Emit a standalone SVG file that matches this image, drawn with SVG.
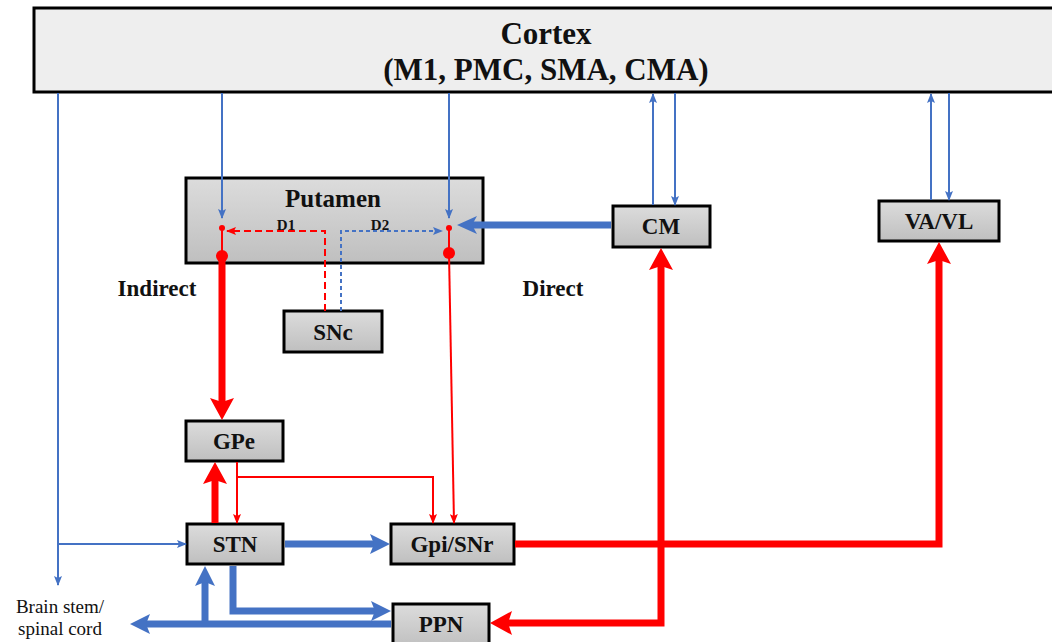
<svg xmlns="http://www.w3.org/2000/svg" width="1052" height="642" viewBox="0 0 1052 642">
<style>
.box{stroke:#000;stroke-width:3;fill:url(#g)}
.lbl{font-family:"Liberation Serif","Times New Roman",serif;font-weight:bold;font-size:23px;text-anchor:middle;fill:#111}
.bt{fill:none;stroke:#4472C4;stroke-width:2}
.bT{fill:none;stroke:#4472C4;stroke-width:7}
.rt{fill:none;stroke:#FF0000;stroke-width:2}
.rT{fill:none;stroke:#FF0000;stroke-width:7}
</style>
<defs>
<linearGradient id="g" x1="0" y1="0" x2="0" y2="1">
<stop offset="0" stop-color="#dcdcdc"/><stop offset="1" stop-color="#bfbfbf"/>
</linearGradient>
<marker id="bs" markerUnits="userSpaceOnUse" markerWidth="10" markerHeight="8" viewBox="0 0 10 8" refX="9" refY="4" orient="auto"><path d="M0,0 L10,4 L0,8 L2,4z" fill="#4472C4"/></marker>
<marker id="rs" markerUnits="userSpaceOnUse" markerWidth="10" markerHeight="8" viewBox="0 0 10 8" refX="9" refY="4" orient="auto"><path d="M0,0 L10,4 L0,8 L2,4z" fill="#FF0000"/></marker>
<marker id="rL" markerUnits="userSpaceOnUse" markerWidth="22" markerHeight="24" viewBox="0 0 22 24" refX="4" refY="12" orient="auto-start-reverse"><path d="M0,0 L22,12 L0,24 L4,12z" fill="#FF0000"/></marker>
<marker id="bL" markerUnits="userSpaceOnUse" markerWidth="20" markerHeight="20" viewBox="0 0 20 20" refX="4" refY="10" orient="auto"><path d="M0,0 L20,10 L0,20 L4,10z" fill="#4472C4"/></marker>
<marker id="bM" markerUnits="userSpaceOnUse" markerWidth="20" markerHeight="18" viewBox="0 0 20 18" refX="5" refY="9" orient="auto"><path d="M0,0 L20,9 L0,18 L5,9z" fill="#4472C4"/></marker>
</defs>
<rect width="1052" height="642" fill="#fff"/>

<g id="cortex">
<rect x="34" y="8" width="1030" height="84" fill="#eeeeee" stroke="#000" stroke-width="3"/>
<text class="lbl" x="546" y="44" style="font-size:31px">Cortex</text>
<text class="lbl" x="546" y="80" style="font-size:31px">(M1, PMC, SMA, CMA)</text>
</g>
<g id="putamen">
<rect class="box" x="186" y="178" width="297" height="85"/>
<text class="lbl" x="333" y="207" style="font-size:25px">Putamen</text>
<text class="lbl" x="286" y="230" style="font-size:15px">D1</text>
<text class="lbl" x="380" y="230" style="font-size:15px">D2</text>
</g>
<g id="snc"><rect class="box" x="284" y="311" width="98" height="41"/><text class="lbl" x="333" y="340">SNc</text></g>
<g id="gpe"><rect class="box" x="186" y="421" width="97" height="40"/><text class="lbl" x="234" y="449">GPe</text></g>
<g id="stn"><rect class="box" x="187" y="524" width="96" height="40"/><text class="lbl" x="235" y="552">STN</text></g>
<g id="gpisnr"><rect class="box" x="391" y="524" width="123" height="40"/><text class="lbl" x="452" y="552">Gpi/SNr</text></g>
<g id="ppn"><rect class="box" x="393" y="604" width="96" height="44"/><text class="lbl" x="441" y="632">PPN</text></g>
<g id="cm"><rect class="box" x="613" y="206" width="97" height="41"/><text class="lbl" x="661" y="234">CM</text></g>
<g id="vavl"><rect class="box" x="879" y="201" width="120" height="40"/><text class="lbl" x="939" y="229">VA/VL</text></g>
<g id="labels">
<text class="lbl" x="157" y="296">Indirect</text>
<text class="lbl" x="553" y="296">Direct</text>
<text x="60" y="613" font-family="'Liberation Serif','Times New Roman',serif" font-size="19" text-anchor="middle" fill="#111">Brain stem/</text>
<text x="60" y="635" font-family="'Liberation Serif','Times New Roman',serif" font-size="19" text-anchor="middle" fill="#111">spinal cord</text>
</g>

<g id="connectors">
<path class="bt" d="M58,93 V585" marker-end="url(#bs)"/>
<path class="bt" d="M58,544 H186" marker-end="url(#bs)"/>
<path class="bt" d="M222,93 V218" marker-end="url(#bs)"/>
<path class="bt" d="M449,93 V218" marker-end="url(#bs)"/>
<path class="bt" d="M653,205 V94" marker-end="url(#bs)"/>
<path class="bt" d="M675,93 V205" marker-end="url(#bs)"/>
<path class="bt" d="M931,200 V94" marker-end="url(#bs)"/>
<path class="bt" d="M949,93 V200" marker-end="url(#bs)"/>
<path class="bt" d="M341,311 V231 H442" stroke-width="1.5" stroke-dasharray="4 3" marker-end="url(#bs)"/>
<path class="rt" d="M325,311 V231 H227" stroke-width="3" stroke-dasharray="7 4" marker-end="url(#rs)"/>

<path class="bT" d="M611,225 H472" stroke-width="5" marker-end="url(#bM)"/>
<path class="bT" d="M285,544 H374" marker-end="url(#bL)"/>
<path class="bT" d="M233,566 V611 H375" stroke-width="6" marker-end="url(#bL)"/>
<path class="bT" d="M391,624 H146" stroke-width="6" marker-end="url(#bL)"/>
<path class="bT" d="M205,624 V582" stroke-width="6" marker-end="url(#bL)"/>

<path class="rt" d="M222,228 V256"/>
<path class="rt" d="M449,228 V253"/>
<path class="rt" d="M449,253 L454,523" marker-end="url(#rs)"/>
<path class="rt" d="M237,462 V523" marker-end="url(#rs)"/>
<path class="rt" d="M237,477 H433 V523" marker-end="url(#rs)"/>

<path class="rT" d="M222,256 V402" marker-end="url(#rL)"/>
<path class="rT" d="M215,523 V480" marker-end="url(#rL)"/>
<path class="rT" d="M515,544 H939 V260" marker-end="url(#rL)"/>
<path class="rT" d="M661,266 V623 H508" marker-start="url(#rL)" marker-end="url(#rL)"/>

<circle cx="222" cy="228" r="3" fill="#FF0000"/>
<circle cx="449" cy="228" r="3" fill="#FF0000"/>
<circle cx="222" cy="256" r="6" fill="#FF0000"/>
<circle cx="449" cy="253" r="6" fill="#FF0000"/>
</g>
</svg>
